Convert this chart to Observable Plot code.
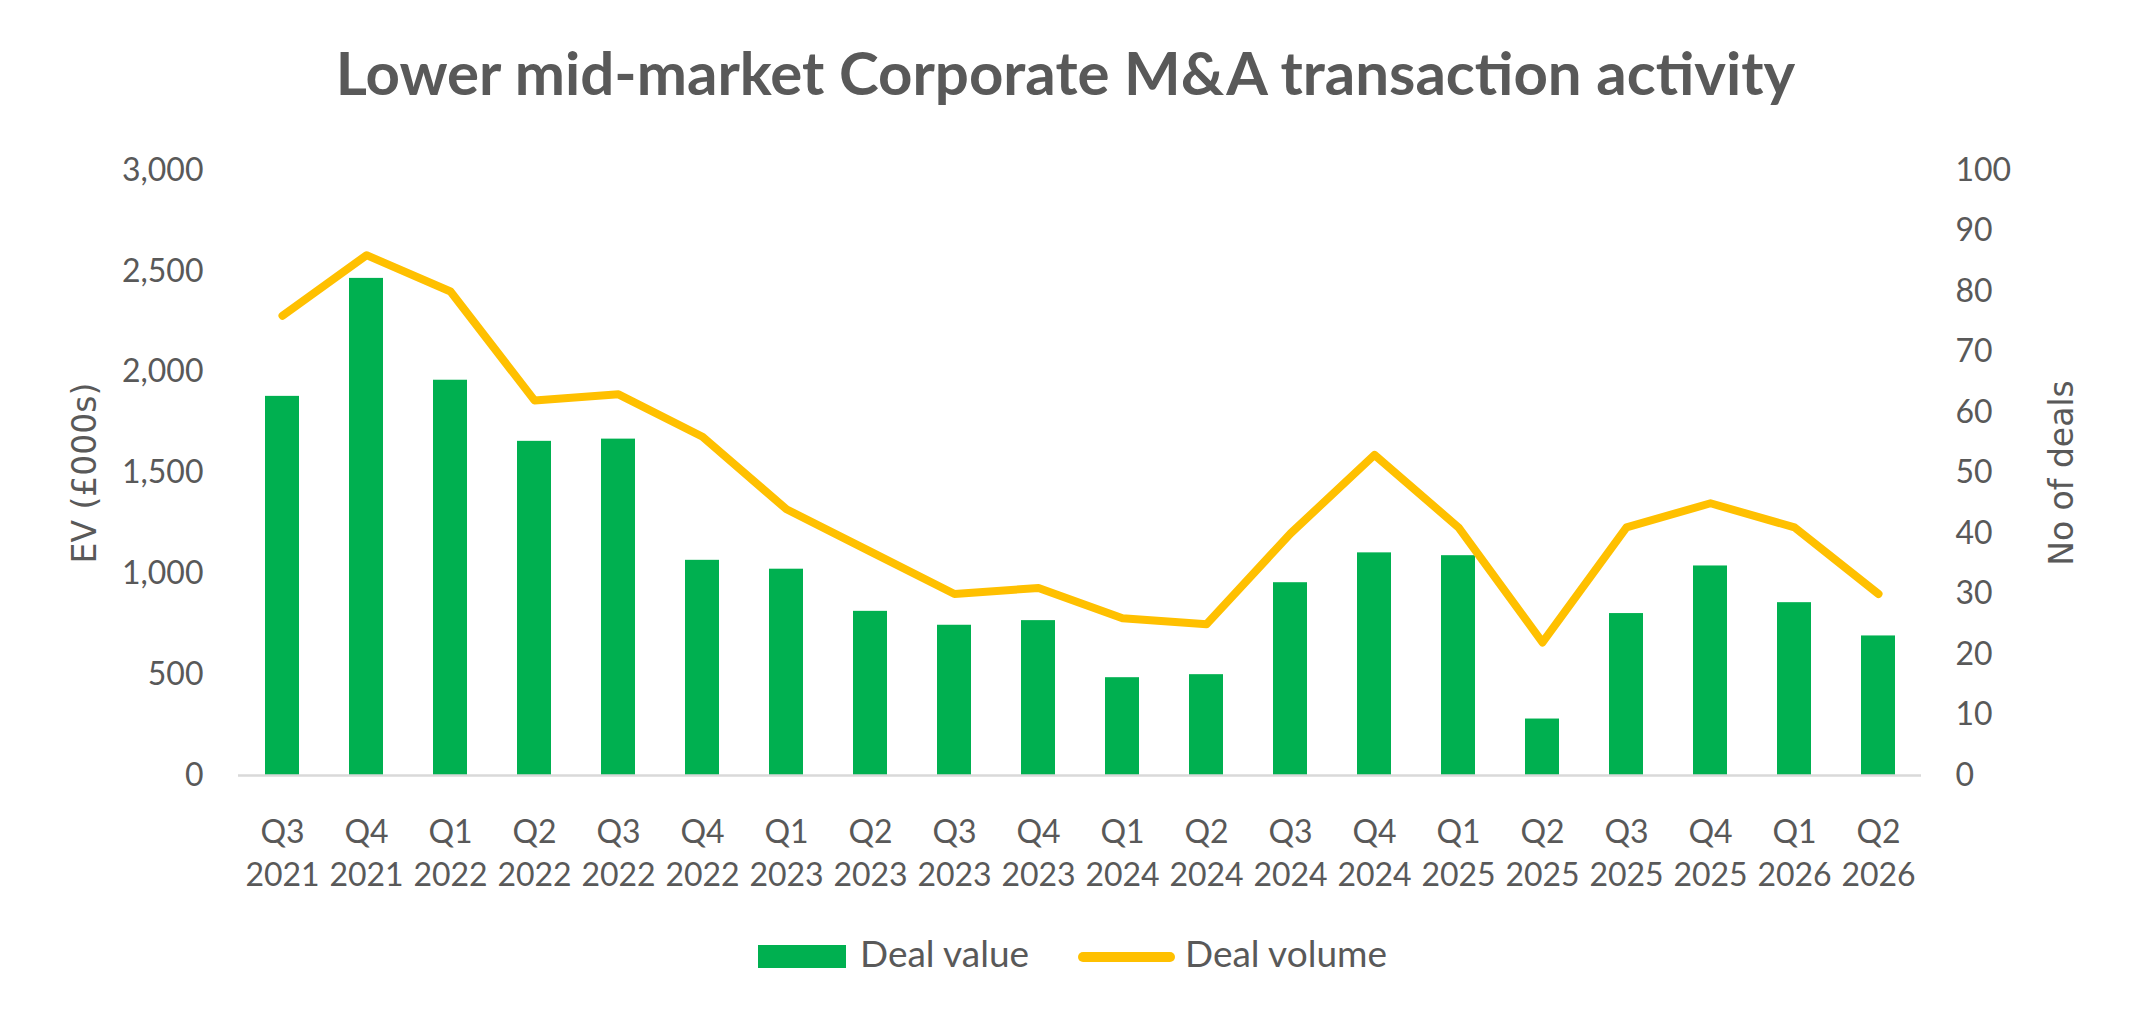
<!DOCTYPE html>
<html>
<head>
<meta charset="utf-8">
<script src="https://cdn.jsdelivr.net/npm/d3@7"></script>
<script src="https://cdn.jsdelivr.net/npm/@observablehq/plot@0.6"></script>
<style>
  html, body { margin: 0; padding: 0; background: #ffffff; }
  #wrap { position: relative; width: 2131px; height: 1023px; background: #ffffff; font-family: Lato, "Open Sans", sans-serif; color: #595959; overflow: hidden; }
  #title { position: absolute; left: 0; top: 42px; width: 2131px; text-align: center; font-weight: 700; font-size: 60px; line-height: 60px; white-space: nowrap; }
  #chart { position: absolute; left: 0; top: 130px; }
  .leg { position: absolute; font-size: 37px; line-height: 37px; white-space: nowrap; }
</style>
</head>
<body>
<div id="wrap">
  <div id="title">Lower mid-market Corporate M&amp;A transaction activity</div>
  <div id="chart"></div>
  <div id="legend"></div>
</div>
<script>
// ---- data ----
const quarters = ["Q3\n2021","Q4\n2021","Q1\n2022","Q2\n2022","Q3\n2022","Q4\n2022","Q1\n2023","Q2\n2023","Q3\n2023","Q4\n2023",
                  "Q1\n2024","Q2\n2024","Q3\n2024","Q4\n2024","Q1\n2025","Q2\n2025","Q3\n2025","Q4\n2025","Q1\n2026","Q2\n2026"];
const dealValue = [1880, 2465, 1960, 1657, 1668, 1067, 1023, 814, 745, 768, 485, 500, 956, 1104, 1090, 280, 803, 1039, 857, 692];
const dealVolume = [76, 86, 80, 62, 63, 56, 44, 37, 30, 31, 26, 25, 40, 53, 41, 22, 41, 45, 41, 30];
const leftTicks = [0, 500, 1000, 1500, 2000, 2500, 3000];
const rightTicks = [0, 10, 20, 30, 40, 50, 60, 70, 80, 90, 100];
const seriesNames = ["Deal value", "Deal volume"];
const leftTitle = "EV (£000s)";
const rightTitle = "No of deals";

const GREEN = "#00B050", YELLOW = "#FFC000", TEXT = "#595959", AXIS = "#D9D9D9";
const k = 3000 / 100; // right axis (0–100) mapped onto left axis (0–3000)

const rows = quarters.map((q, i) => ({q, value: dealValue[i], volume: dealVolume[i]}));

const chart = Plot.plot({
  width: 2131,
  height: 770,
  marginLeft: 238,
  marginRight: 210,
  marginTop: 40,
  marginBottom: 125,
  style: {fontFamily: "Lato, 'Open Sans', sans-serif", fontSize: "32px", color: TEXT, background: "#ffffff", overflow: "visible"},
  x: {type: "band", domain: quarters, paddingInner: 0.6, paddingOuter: 0.3},
  y: {domain: [0, 3000]},
  marks: [
    Plot.axisY(leftTicks, {anchor: "left", tickSize: 0, tickPadding: 35, tickFormat: d3.format(","), label: null, fill: TEXT, fontSize: 32}),
    Plot.axisY(rightTicks.map(d => d * k), {anchor: "right", tickSize: 0, tickPadding: 34, tickFormat: d => String(Math.round(d / k)), label: null, fill: TEXT, fontSize: 32}),
    Plot.axisX({tickSize: 0, tickPadding: 37, lineHeight: 1.34, label: null, fill: TEXT, fontSize: 32}),
    Plot.barY(rows, {x: "q", y: "value", fill: GREEN}),
    Plot.ruleY([0], {stroke: AXIS, strokeWidth: 2.5}),
    Plot.line(rows, {x: "q", y: d => d.volume * k, stroke: YELLOW, strokeWidth: 8, strokeLinecap: "round", strokeLinejoin: "round"}),
    Plot.text([leftTitle], {text: d => d, frameAnchor: "left", dx: -153, rotate: -90, textAnchor: "middle", lineAnchor: "middle", fill: TEXT, fontSize: 33, fontFamily: "'DejaVu Sans', Verdana, sans-serif"}),
    Plot.text([rightTitle], {text: d => d, frameAnchor: "right", dx: 141, rotate: -90, textAnchor: "middle", lineAnchor: "middle", fill: TEXT, fontSize: 33, fontFamily: "'DejaVu Sans', Verdana, sans-serif"})
  ]
});
document.getElementById("chart").appendChild(chart);

// ---- legend ----
const legend = document.getElementById("legend");
const sw1 = document.createElement("div");
sw1.style.cssText = `position:absolute;left:758px;top:945px;width:88px;height:23px;background:${GREEN};`;
legend.appendChild(sw1);
const t1 = document.createElement("div");
t1.className = "leg"; t1.style.left = "860px"; t1.style.top = "934px"; t1.textContent = seriesNames[0];
legend.appendChild(t1);
const sw2 = document.createElement("div");
sw2.style.cssText = `position:absolute;left:1078px;top:952px;width:97px;height:10px;border-radius:5px;background:${YELLOW};`;
legend.appendChild(sw2);
const t2 = document.createElement("div");
t2.className = "leg"; t2.style.left = "1185px"; t2.style.top = "934px"; t2.textContent = seriesNames[1];
legend.appendChild(t2);
</script>
</body>
</html>
